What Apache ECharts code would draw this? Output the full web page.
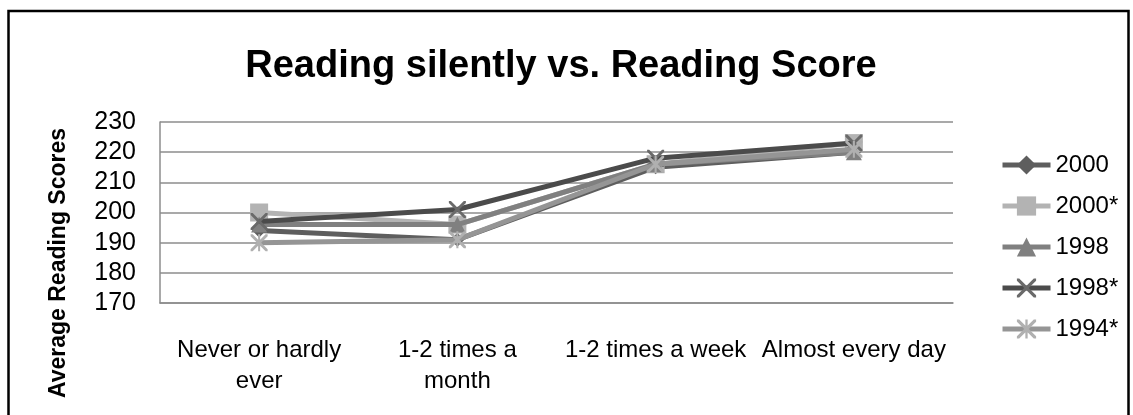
<!DOCTYPE html>
<html>
<head>
<meta charset="utf-8">
<script src="https://cdn.jsdelivr.net/npm/echarts@6/dist/echarts.min.js"></script>
<style>
html,body{margin:0;padding:0;background:#fff;}
#chart{width:1133px;height:415px;}
</style>
</head>
<body>
<div id="chart"></div>
<script>
const categories = ['Never or hardly\never', '1-2 times a\nmonth', '1-2 times a week', 'Almost every day'];
const seriesNames = ['2000', '2000*', '1998', '1998*', '1994*'];
const values2000 = [194, 191, 215, 220];
const values2000s = [200, 196, 216, 223];
const values1998 = [196, 196, 216, 220];
const values1998s = [197, 201, 218, 223];
const values1994s = [190, 191, 216, 221];
const yTicks = [170, 180, 190, 200, 210, 220, 230];

const X_PATH = 'path://M0,0L1.2,0L5,3.8L8.8,0L10,0L10,1.2L6.2,5L10,8.8L10,10L8.8,10L5,6.2L1.2,10L0,10L0,8.8L3.8,5L0,1.2Z';
const AST_PATH = 'path://M0,0L1.2,0L5,3.8L8.8,0L10,0L10,1.2L6.2,5L10,8.8L10,10L8.8,10L5,6.2L1.2,10L0,10L0,8.8L3.8,5L0,1.2Z M4.4,0L5.6,0L5.6,10L4.4,10Z';

const styles = [
  {data: values2000, color: '#5e5e5e', mcolor: '#5e5e5e', symbol: 'diamond', size: 14},
  {data: values2000s, color: '#b3b3b3', mcolor: '#b3b3b3', symbol: 'rect', size: 18},
  {data: values1998, color: '#808080', mcolor: '#808080', symbol: 'triangle', size: 16},
  {data: values1998s, color: '#4b4b4b', mcolor: '#6a6a6a', symbol: X_PATH, size: 17},
  {data: values1994s, color: '#959595', mcolor: '#b0b0b0', symbol: AST_PATH, size: 17}
];

const chart = echarts.init(document.getElementById('chart'), null, {renderer: 'canvas'});
const font = '"Liberation Sans", Arial, sans-serif';

chart.setOption({
  animation: false,
  backgroundColor: '#fff',
  graphic: [
    {type: 'rect', shape: {x: 8.5, y: 11, width: 1120, height: 430}, style: {fill: 'none', stroke: '#000', lineWidth: 2.5}, silent: true},
    {type: 'text', x: 561, y: 67, style: {text: 'Reading silently vs. Reading Score', font: 'bold 38px ' + font, fill: '#000', textAlign: 'center', textVerticalAlign: 'middle'}},
    {type: 'text', x: 59, y: 263, rotation: Math.PI / 2, style: {text: 'Average Reading Scores', font: 'bold 23px ' + font, fill: '#000', textAlign: 'center', textVerticalAlign: 'middle'}}
  ],
  legend: {
    orient: 'vertical',
    left: 995,
    top: 148,
    itemWidth: 48,
    itemHeight: 24,
    itemGap: 17,
    data: seriesNames,
    lineStyle: {width: 5},
    textStyle: {fontFamily: font, fontSize: 24, color: '#000'}
  },
  grid: {left: 160, right: 180, top: 122, bottom: 112, containLabel: false},
  xAxis: {
    type: 'category',
    data: categories,
    boundaryGap: true,
    axisLine: {lineStyle: {color: '#8c8c8c', width: 1.5}},
    axisTick: {show: false},
    axisLabel: {fontFamily: font, fontSize: 24, color: '#000', margin: 32, lineHeight: 31, interval: 0}
  },
  yAxis: {
    type: 'value',
    min: yTicks[0],
    max: yTicks[yTicks.length - 1],
    interval: 10,
    axisLine: {show: true, lineStyle: {color: '#8c8c8c', width: 1.5}},
    axisTick: {show: false},
    splitLine: {lineStyle: {color: '#8c8c8c', width: 1.5}},
    axisLabel: {fontFamily: font, fontSize: 25, color: '#000', margin: 24}
  },
  series: styles.map((s, i) => ({
    name: seriesNames[i],
    type: 'line',
    data: s.data,
    symbol: s.symbol,
    symbolSize: s.size,
    showSymbol: true,
    lineStyle: {color: s.color, width: 5},
    itemStyle: {color: s.mcolor, borderWidth: 0},
    color: s.color,
    z: 2 + i
  }))
});
</script>
</body>
</html>
